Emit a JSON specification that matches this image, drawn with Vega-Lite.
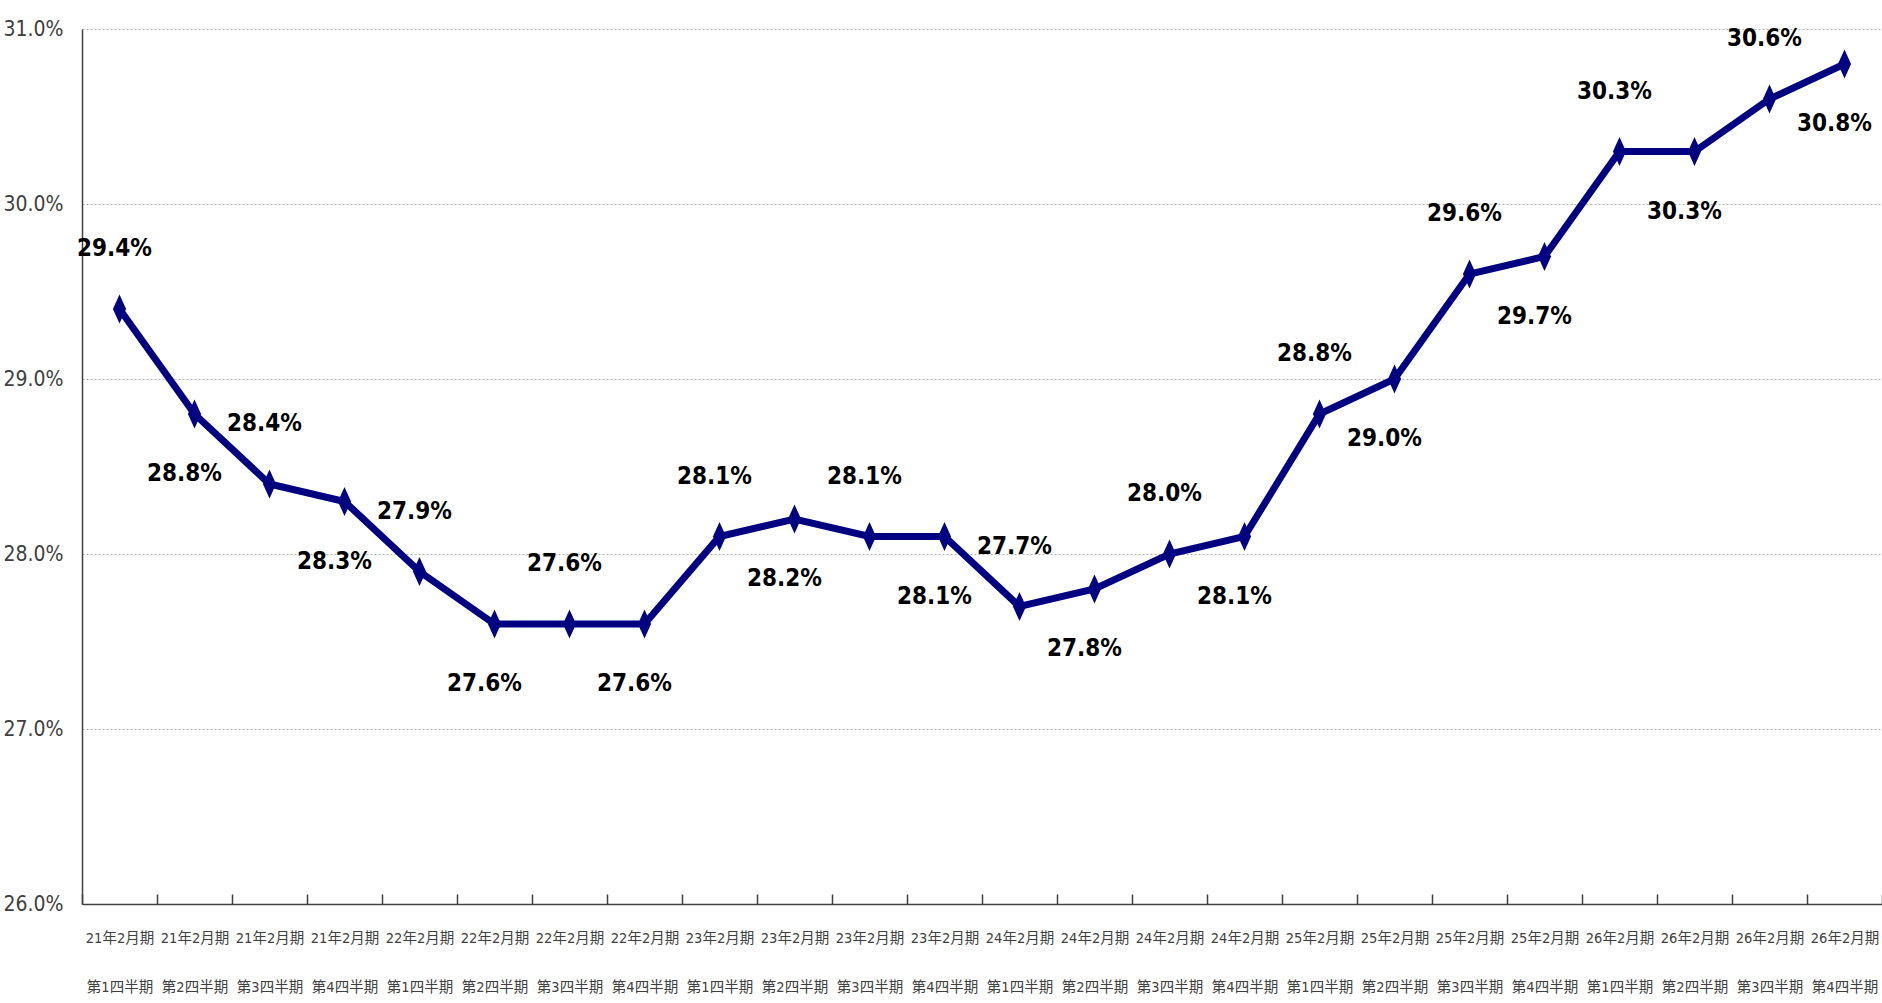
{
  "$schema": "https://vega.github.io/schema/vega-lite/v6.json",
  "autosize": "none",
  "width": 1800,
  "height": 875,
  "padding": {"left": 82, "top": 29, "right": 0, "bottom": 99},
  "background": "white",
  "config": {"view": {"stroke": null}},
  "data": {"values": [
    {"period": "21年2月期 第1四半期", "rate": 0.294},
    {"period": "21年2月期 第2四半期", "rate": 0.288},
    {"period": "21年2月期 第3四半期", "rate": 0.284},
    {"period": "21年2月期 第4四半期", "rate": 0.283},
    {"period": "22年2月期 第1四半期", "rate": 0.279},
    {"period": "22年2月期 第2四半期", "rate": 0.276},
    {"period": "22年2月期 第3四半期", "rate": 0.276},
    {"period": "22年2月期 第4四半期", "rate": 0.276},
    {"period": "23年2月期 第1四半期", "rate": 0.281},
    {"period": "23年2月期 第2四半期", "rate": 0.282},
    {"period": "23年2月期 第3四半期", "rate": 0.281},
    {"period": "23年2月期 第4四半期", "rate": 0.281},
    {"period": "24年2月期 第1四半期", "rate": 0.277},
    {"period": "24年2月期 第2四半期", "rate": 0.278},
    {"period": "24年2月期 第3四半期", "rate": 0.280},
    {"period": "24年2月期 第4四半期", "rate": 0.281},
    {"period": "25年2月期 第1四半期", "rate": 0.288},
    {"period": "25年2月期 第2四半期", "rate": 0.290},
    {"period": "25年2月期 第3四半期", "rate": 0.296},
    {"period": "25年2月期 第4四半期", "rate": 0.297},
    {"period": "26年2月期 第1四半期", "rate": 0.303},
    {"period": "26年2月期 第2四半期", "rate": 0.303},
    {"period": "26年2月期 第3四半期", "rate": 0.306},
    {"period": "26年2月期 第4四半期", "rate": 0.308}
  ]},
  "transform": [{"window": [{"op": "row_number", "as": "idx"}]}],
  "encoding": {
    "x": {
      "field": "period", "type": "nominal", "sort": null,
      "scale": {"paddingInner": 0, "paddingOuter": 0},
      "axis": {
        "title": null, "labelAngle": 0,
        "labelExpr": "split(datum.label, ' ')",
        "labelFont": "DejaVu Sans Condensed, Noto Sans CJK JP",
        "labelFontSize": 14.5, "labelColor": "#404040",
        "labelLineHeight": 49, "labelPadding": 34,
        "labelBaseline": "middle",
        "tickBand": "extent",
        "ticks": false,
        "grid": true, "gridColor": "#404040", "gridWidth": 1.5, "gridDash": [0, 865, 10, 100],
        "domainColor": "#404040", "domainWidth": 1.5
      }
    },
    "y": {
      "field": "rate", "type": "quantitative",
      "scale": {"domain": [0.26, 0.31], "nice": false, "zero": false},
      "axis": {
        "title": null, "format": ".1%", "values": [0.26, 0.27, 0.28, 0.29, 0.30, 0.31],
        "labelOverlap": false,
        "labelFont": "DejaVu Sans Condensed", "labelFontSize": 21, "labelColor": "#404040",
        "labelPadding": 19,
        "ticks": false,
        "domainColor": "#404040", "domainWidth": 1.5,
        "grid": true, "gridColor": "#b0b0b0", "gridDash": [2, 2], "gridWidth": 1
      }
    }
  },
  "layer": [
    {"mark": {"type": "line", "color": "#000080", "strokeWidth": 7}},
    {"mark": {"type": "point", "shape": "M0,-1L0.45,0L0,1L-0.45,0Z", "size": 850, "filled": true, "color": "#000080", "opacity": 1}},
    {
      "transform": [{"filter": "datum.idx % 2 == 1"}],
      "mark": {"type": "text", "dy": -60, "dx": -5, "font": "DejaVu Sans Condensed", "fontWeight": "bold", "fontSize": 24, "color": "#000000"},
      "encoding": {"text": {"field": "rate", "type": "quantitative", "format": ".1%"}}
    },
    {
      "transform": [{"filter": "datum.idx % 2 == 0"}],
      "mark": {"type": "text", "dy": 60, "dx": -10, "font": "DejaVu Sans Condensed", "fontWeight": "bold", "fontSize": 24, "color": "#000000"},
      "encoding": {"text": {"field": "rate", "type": "quantitative", "format": ".1%"}}
    }
  ]
}
